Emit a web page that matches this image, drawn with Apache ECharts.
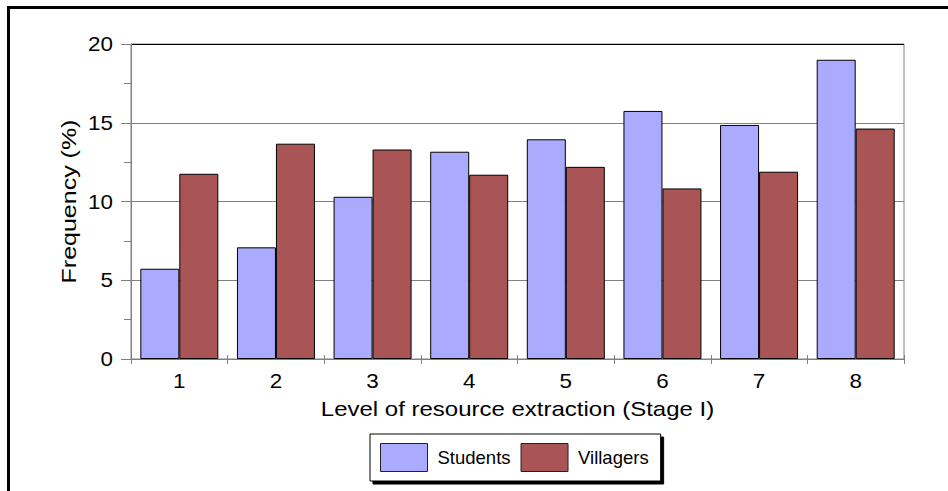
<!DOCTYPE html>
<html><head><meta charset="utf-8">
<script src="https://cdn.jsdelivr.net/npm/echarts@6/dist/echarts.min.js"></script>
<style>html,body{margin:0;padding:0;background:#fff}#c{width:948px;height:491px}</style>
</head><body><div id="c"></div>
<script>
var categories = ['1','2','3','4','5','6','7','8'];
var students = [5.73, 7.09, 10.3, 13.16, 13.95, 15.75, 14.86, 19.0];
var villagers = [11.76, 13.67, 13.3, 11.7, 12.2, 10.83, 11.89, 14.63];
var seriesNames = ['Students', 'Villagers'];
var xTitle = 'Level of resource extraction (Stage I)';
var yTitle = 'Frequency (%)';

var chart = echarts.init(document.getElementById('c'), null, {renderer: 'svg'});
var font = 'Liberation Sans, Arial, Helvetica, sans-serif';
var gray = '#808080';
chart.setOption({
  animation: false,
  textStyle: {fontFamily: font},
  graphic: [{
    type: 'rect', z: 100, silent: true,
    shape: {x: 8.5, y: 7.5, width: 1000, height: 600},
    style: {fill: 'none', stroke: '#000', lineWidth: 3}
  }],
  grid: [{left: 131, top: 44, right: 44, bottom: 132, show: true, borderColor: gray, borderWidth: 1, backgroundColor: 'transparent'}],
  legend: {
    data: seriesNames,
    left: 370, top: 434,
    padding: [9, 12, 9, 10],
    icon: 'rect',
    itemWidth: 47, itemHeight: 28, itemGap: 10,
    backgroundColor: '#fff', borderColor: '#000', borderWidth: 1,
    shadowColor: '#000', shadowBlur: 0, shadowOffsetX: 3, shadowOffsetY: 3,
    textStyle: {fontSize: 18.5, color: '#000', fontFamily: font, padding: [0, 0, 0, 5]},
    itemStyle: {borderColor: '#222', borderWidth: 1}
  },
  xAxis: [{
    type: 'category', data: categories, gridIndex: 0,
    name: xTitle, nameLocation: 'middle', nameGap: 40,
    nameTextStyle: {fontSize: 20, color: '#000', fontFamily: font},
    axisLine: {show: true, lineStyle: {color: gray, width: 1}},
    axisTick: {show: true, length: 5, lineStyle: {color: gray}},
    axisLabel: {fontSize: 20, color: '#000', margin: 12, fontFamily: font},
    splitLine: {show: false}
  }, {
    type: 'category', data: categories, gridIndex: 0, position: 'bottom',
    axisLine: {show: false},
    axisTick: {show: true, inside: true, length: 4, lineStyle: {color: gray}},
    axisLabel: {show: false}, splitLine: {show: false}
  }],
  yAxis: [{
    type: 'value', min: 0, max: 20, interval: 5,
    name: yTitle, nameLocation: 'middle', nameGap: 45,
    nameTextStyle: {fontSize: 20, color: '#000', fontFamily: font},
    axisLine: {show: true, lineStyle: {color: gray, width: 1}},
    axisTick: {show: true, length: 10, lineStyle: {color: gray}},
    minorTick: {show: true, splitNumber: 2, length: 7, lineStyle: {color: gray}},
    axisLabel: {fontSize: 20, color: '#000', margin: 18, fontFamily: font},
    splitLine: {show: true, lineStyle: {color: [gray, gray, gray, gray, '#000'], width: 1}}
  }, {
    type: 'value', min: 0, max: 20, interval: 5, position: 'left', offset: 0,
    axisLine: {show: false},
    axisTick: {show: false},
    minorTick: {show: true, splitNumber: 2, length: 7, lineStyle: {color: gray}},
    axisLabel: {show: false}, splitLine: {show: false}
  }],
  series: [{
    name: seriesNames[0], type: 'bar', data: students,
    barWidth: 39, barGap: '0%',
    itemStyle: {color: '#aaaaff', borderColor: '#000', borderWidth: 1}
  }, {
    name: seriesNames[1], type: 'bar', data: villagers,
    barWidth: 39, barGap: '0%',
    itemStyle: {color: '#aa5555', borderColor: '#000', borderWidth: 1}
  }]
});

// widen the glyphs along the text direction, as in the reference typeface
function stretch(t, sx) {
  var T = t.getAttribute('transform') || '';
  if (t.__done === T) return;
  var x = parseFloat(t.getAttribute('x')) || 0;
  var y = parseFloat(t.getAttribute('y')) || 0;
  var nt = T + ' translate(' + x + ' ' + y + ') scale(' + sx + ' 1) translate(' + (-x) + ' ' + (-y) + ')';
  t.setAttribute('transform', nt);
  t.__done = nt;
}
function widenText() {
  var texts = document.querySelectorAll('#c svg text');
  texts.forEach(function (t) {
    var s = t.textContent;
    if (s === yTitle) stretch(t, 1.25);
    else if (s === xTitle) stretch(t, 1.2);
    else if (seriesNames.indexOf(s) >= 0) return;
    else stretch(t, 1.12);
  });
}
chart.on('finished', widenText);
widenText();
setTimeout(widenText, 50);
</script></body></html>
